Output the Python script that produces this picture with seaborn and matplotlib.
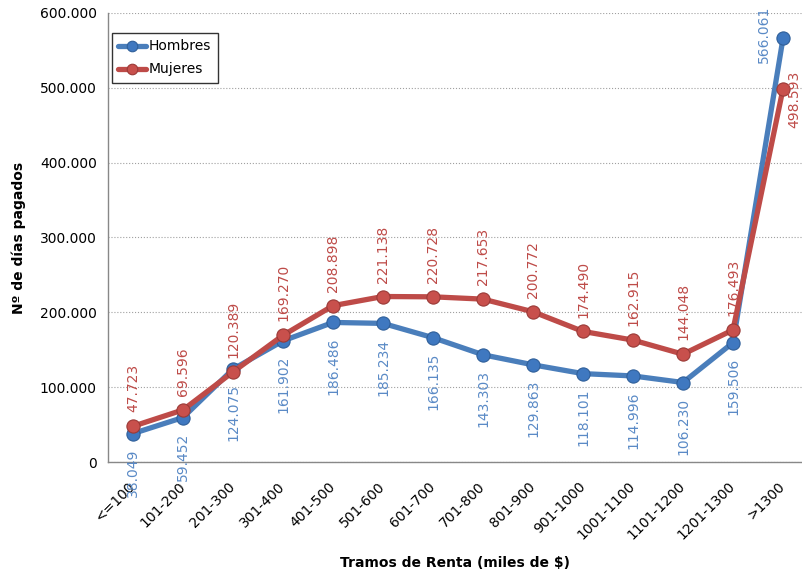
import seaborn as sns
import matplotlib.pyplot as plt
from matplotlib.ticker import FuncFormatter, MultipleLocator, FixedLocator

tramos = ['<=100', '101-200', '201-300', '301-400', '401-500', '501-600', '601-700',
          '701-800', '801-900', '901-1000', '1001-1100', '1101-1200', '1201-1300', '>1300']
hombres = [38049, 59452, 124075, 161902, 186486, 185234, 166135,
           143303, 129863, 118101, 114996, 106230, 159506, 566061]
mujeres = [47723, 69596, 120389, 169270, 208898, 221138, 220728,
           217653, 200772, 174490, 162915, 144048, 176493, 498593]

azul = '#4A7EBB'
azul_txt = '#5A8AC6'
rojo = '#BE4B48'

sns.set_style('white')
plt.rcParams['font.family'] = ['DejaVu Sans']
plt.rcParams['text.color'] = 'black'
plt.rcParams['xtick.color'] = 'black'
plt.rcParams['ytick.color'] = 'black'
plt.rcParams['axes.labelcolor'] = 'black'

fig = plt.figure(figsize=(8.02, 5.73), dpi=100)
ax = fig.add_axes([108 / 802, 1 - 462 / 573, 1 - 108 / 802, (462 - 13) / 573])

x = list(range(len(tramos)))
sns.lineplot(x=x, y=hombres, ax=ax, color=azul, linewidth=3.8, marker='o', markersize=9.5,
             markerfacecolor='#3F78C0', markeredgecolor='#2F5F99', markeredgewidth=0.8,
             label='Hombres', zorder=3)
sns.lineplot(x=x, y=mujeres, ax=ax, color=rojo, linewidth=3.8, marker='o', markersize=9.5,
             markerfacecolor='#C8504C', markeredgecolor='#9A3A37', markeredgewidth=0.8,
             label='Mujeres', zorder=4)

def miles(v):
    return f'{int(v):,}'.replace(',', '.')

ultimo = len(tramos) - 1
for i, (h, m) in enumerate(zip(hombres, mujeres)):
    if i == ultimo:
        # el último tramo lleva las etiquetas a los lados
        ax.annotate(miles(h), (i, h), xytext=(-14, 3), textcoords='offset points',
                    rotation=90, ha='center', va='center', color=azul_txt, fontsize=10,
                    annotation_clip=False, zorder=5)
        ax.annotate(miles(m), (i, m), xytext=(8, 13), textcoords='offset points',
                    rotation=90, ha='center', va='top', color=rojo, fontsize=10,
                    annotation_clip=False, zorder=5)
        continue
    ax.annotate(miles(h), (i, h), xytext=(0, -11), textcoords='offset points',
                rotation=90, ha='center', va='top', color=azul_txt, fontsize=10,
                annotation_clip=False, zorder=5)
    ax.annotate(miles(m), (i, m), xytext=(0, 10), textcoords='offset points',
                rotation=90, ha='center', va='bottom', color=rojo, fontsize=10,
                annotation_clip=False, zorder=5)

ax.set_xlim(-0.5, 13.38)
ax.set_ylim(0, 600000)
ax.yaxis.set_major_locator(MultipleLocator(100000))
ax.yaxis.set_major_formatter(FuncFormatter(lambda v, p: miles(v)))
ax.set_xticks(x)
ax.set_xticklabels(tramos, rotation=45, ha='right', va='center', rotation_mode='anchor', fontsize=10)
ax.xaxis.set_minor_locator(FixedLocator([i - 0.5 for i in range(len(tramos) + 1)]))
ax.tick_params(axis='x', which='major', length=0, pad=16)
ax.tick_params(axis='x', which='minor', length=5, color='#888888', direction='out')
ax.tick_params(axis='y', length=5, color='#888888', direction='out', labelsize=10, pad=3)
ax.grid(True, axis='y', linestyle=':', color='#A0A0A0', linewidth=0.8)

for s in ['top', 'right']:
    ax.spines[s].set_visible(False)
for s in ['left', 'bottom']:
    ax.spines[s].set_color('#888888')
    ax.spines[s].set_linewidth(1)

ax.set_xlabel('Tramos de Renta (miles de $)', fontweight='bold', fontsize=10, labelpad=10)
ax.set_ylabel('Nº de días pagados', fontweight='bold', fontsize=10, labelpad=10)

leg = ax.legend(loc='upper left', bbox_to_anchor=(0.006, 0.955), frameon=True, fancybox=False,
                edgecolor='black', fontsize=10, handlelength=2.0, handletextpad=0.2,
                borderpad=0.45, labelspacing=0.65, borderaxespad=0, markerscale=0.8)
leg.get_frame().set_linewidth(1)

plt.savefig('out.png', dpi=100)
